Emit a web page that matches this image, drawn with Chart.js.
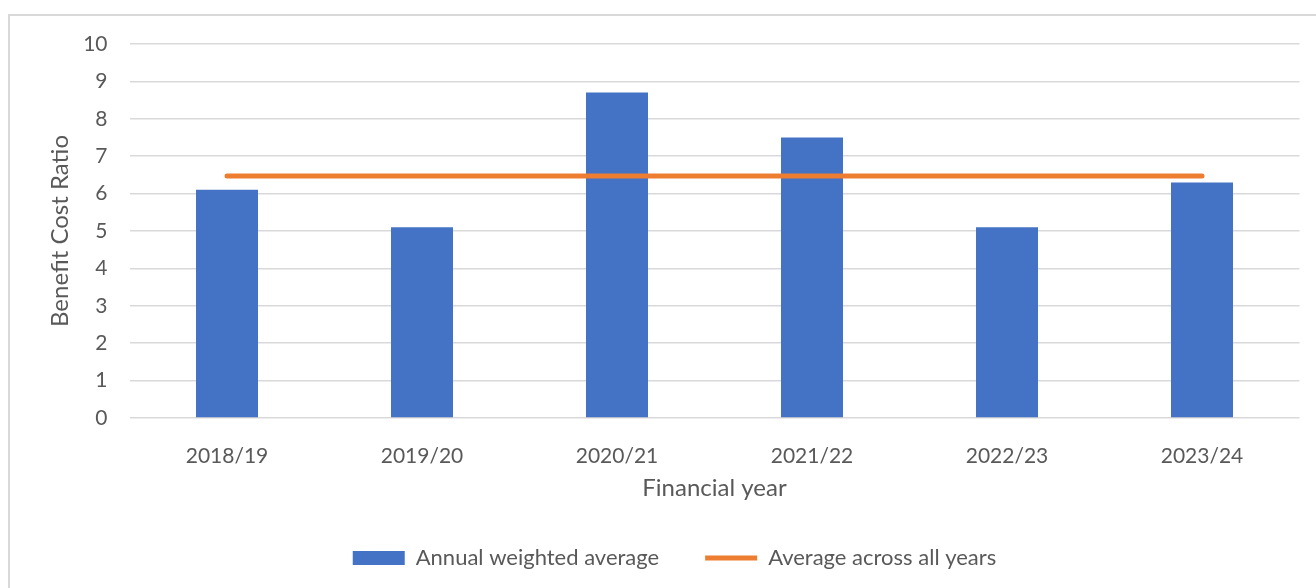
<!DOCTYPE html>
<html>
<head>
<meta charset="utf-8">
<script src="https://cdn.jsdelivr.net/npm/chart.js@4"></script>
<style>
  html, body { margin: 0; padding: 0; background: #fff; overflow: hidden; }
  #frame {
    position: absolute; left: 8px; top: 14px;
    width: 1400px; height: 700px;
    border: 2px solid #d9d9d9;
  }
  #wrap { position: absolute; left: 0; top: 0; width: 1316px; height: 588px; }
</style>
</head>
<body>
<div id="frame"></div>
<div id="wrap"><canvas id="bcrChart"></canvas></div>
<script>
// financial years and values
const years = ['2018/19', '2019/20', '2020/21', '2021/22', '2022/23', '2023/24'];
const annualWeighted = [6.1, 5.1, 8.7, 7.5, 5.1, 6.3];
const averageAllYears = [6.47, 6.47, 6.47, 6.47, 6.47, 6.47];
const yTicks = [0, 1, 2, 3, 4, 5, 6, 7, 8, 9, 10];

const textColor = '#595959';
const fontFamily = 'Lato, "Liberation Sans", sans-serif';

const ctx = document.getElementById('bcrChart').getContext('2d');
new Chart(ctx, {
    type: 'bar',
    data: {
        labels: years,
        datasets: [{
            label: 'Annual weighted average',
            data: annualWeighted,
            backgroundColor: '#4472C4',
            borderWidth: 0,
            categoryPercentage: 0.318,
            barPercentage: 1,
            order: 1
        }, {
            type: 'line',
            label: 'Average across all years',
            data: averageAllYears,
            borderColor: '#ED7D31',
            backgroundColor: '#ED7D31',
            borderWidth: 5,
            borderCapStyle: 'round',
            pointRadius: 0,
            fill: false,
            order: 0
        }]
    },
    options: {
        responsive: true,
        maintainAspectRatio: false,
        animation: false,
        layout: {
            padding: { top: 44, right: 16.5, bottom: 9, left: 49.5 }
        },
        plugins: {
            tooltip: { enabled: false },
            legend: {
                position: 'bottom',
                labels: {
                    usePointStyle: true,
                    pointStyleWidth: 52,
                    boxHeight: 14,
                    padding: 46,
                    color: textColor,
                    font: { family: fontFamily, size: 22 },
                    sort: (a, b) => a.datasetIndex - b.datasetIndex,
                    generateLabels: (chart) => {
                        const items = Chart.defaults.plugins.legend.labels.generateLabels(chart);
                        items.forEach(it => {
                            it.pointStyle = it.datasetIndex === 0 ? 'rect' : 'line';
                        });
                        return items;
                    }
                }
            }
        },
        scales: {
            x: {
                grid: { display: false },
                border: { display: false },
                ticks: {
                    color: textColor,
                    font: { family: fontFamily, size: 21 },
                    padding: 18,
                    maxRotation: 0
                },
                title: {
                    display: true,
                    text: 'Financial year',
                    color: textColor,
                    font: { family: fontFamily, size: 24 },
                    padding: { top: 0, bottom: -1.5 }
                },
                afterFit: (scale) => { scale.height = 83; }
            },
            y: {
                min: 0,
                max: 10,
                afterBuildTicks: (scale) => {
                    scale.ticks = yTicks.map(v => ({ value: v }));
                },
                grid: {
                    color: '#d9d9d9',
                    lineWidth: 1.5,
                    drawTicks: false
                },
                border: { display: false },
                ticks: {
                    color: textColor,
                    font: { family: fontFamily, size: 21 },
                    padding: 22
                },
                title: {
                    display: true,
                    text: 'Benefit Cost Ratio',
                    color: textColor,
                    font: { family: fontFamily, size: 24 },
                    padding: { top: -4, bottom: 0 }
                },
                afterFit: (scale) => { scale.width = 80; }
            }
        }
    }
});
</script>
</body>
</html>
